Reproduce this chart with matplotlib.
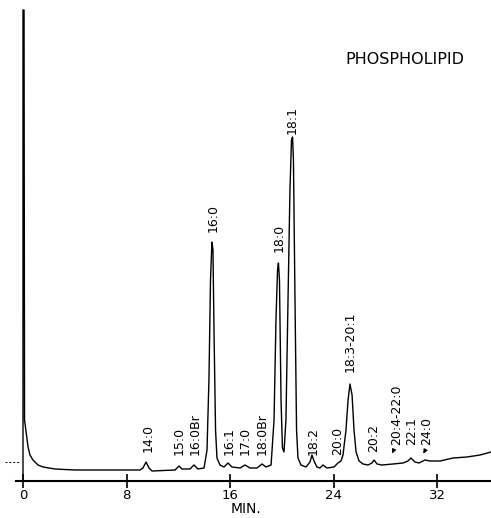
import numpy as np
import matplotlib
matplotlib.use("Agg")
import matplotlib.pyplot as plt

# Trace: time (min) and pen response (arbitrary units)
trace_t = [0.0, 0.0, 0.08, 0.12, 0.39, 0.54, 0.77, 1.16, 1.55, 2.47, 4.02, 9.04,
           9.27, 9.51, 9.74, 9.97, 11.75, 12.06, 12.29, 12.91, 13.21, 13.52, 13.99,
           14.22, 14.37, 14.49, 14.60, 14.68, 14.76, 14.88, 14.99, 15.22, 15.53,
           15.84, 16.15, 16.77, 17.16, 17.54, 18.08, 18.47, 18.78, 19.17, 19.40,
           19.55, 19.67, 19.74, 19.82, 19.94, 20.05, 20.17, 20.32, 20.48, 20.63,
           20.75, 20.83, 20.90, 21.02, 21.14, 21.25, 21.48, 21.87, 22.18, 22.33,
           22.49, 22.72, 22.95, 23.18, 23.49, 24.03, 24.34, 24.57, 24.73, 24.96,
           25.12, 25.27, 25.43, 25.58, 25.74, 25.97, 26.28, 26.66, 26.97, 27.13,
           27.36, 27.74, 28.59, 29.37, 29.75, 29.98, 30.29, 30.60, 31.07, 31.45,
           32.23, 33.23, 34.31, 35.32, 36.17]
trace_y = [0, 471, 471, 61, 34, 26, 21, 16, 14, 12, 11, 11,
           13, 19, 13, 10, 11, 15, 12, 12, 16, 12, 13,
           31, 101, 201, 239, 231, 151, 51, 23, 16, 14,
           18, 14, 13, 16, 13, 13, 17, 14, 16, 61,
           161, 211, 218, 201, 81, 33, 29, 61, 181, 291,
           341, 344, 321, 181, 51, 23, 16, 14, 19, 26,
           20, 14, 13, 16, 13, 14, 18, 20, 26, 51,
           81, 97, 86, 51, 29, 20, 17, 16, 18, 21,
           17, 16, 17, 18, 20, 23, 19, 18, 21, 20,
           20, 23, 24, 26, 29]

# Peak labels and where they sit
peak_names = ['14:0', '15:0', '16:0Br', '16:0', '16:1', '17:0', '18:0Br', '18:0',
              '18:1', '18:2', '20:0', '18:3-20:1', '20:2', '20:4-22:0', '22:1', '24:0']
label_t = [9.66, 12.06, 13.29, 14.68, 15.92, 17.16, 18.47, 19.78,
           20.79, 22.41, 24.34, 25.27, 27.13, 28.90, 30.06, 31.22]
label_y = [29, 26, 26, 249, 26, 26, 26, 229,
           347, 26, 26, 109, 29, 36, 36, 36]

# Arrowed labels: (start, end) points
arrows = [((28.75, 34), (28.44, 25)),
          ((31.22, 34), (30.83, 25))]

ticks = [0, 8, 16, 24, 32]

fig = plt.figure(figsize=(4.91, 5.18), dpi=100)
ax = fig.add_axes([0, 37 / 518, 1, 481 / 518])

ax.plot(trace_t, trace_y, color='black', lw=1.0, clip_on=False)

for name, t, y in zip(peak_names, label_t, label_y):
    ax.text(t, y, name, rotation=90, ha='center', va='bottom', fontsize=9)

for (x0, y0), (x1, y1) in arrows:
    ax.annotate('', xy=(x1, y1), xytext=(x0, y0),
                arrowprops=dict(arrowstyle='-|>', lw=0.8, color='black', mutation_scale=6))

# little dashed reference mark at the left
ax.plot([-1.39, -0.23], [19, 19], color='black', lw=0.7, dashes=(2, 2), clip_on=False)

ax.text(29.52, 422, 'PHOSPHOLIPID', ha='center', va='center', fontsize=11.5)

ax.set_xlim(-23 / 12.94, 468 / 12.94)
ax.set_ylim(0, 481)
for s in ['top', 'left', 'right']:
    ax.spines[s].set_visible(False)
ax.spines['bottom'].set_bounds(-0.55, 36.17)
ax.spines['bottom'].set_linewidth(1.5)
ax.set_yticks([])
ax.set_xticks(ticks)
ax.set_xticklabels([str(t) for t in ticks])
ax.tick_params(axis='x', direction='inout', length=10, width=1.2, pad=1, labelsize=9.5)
ax.set_xlabel('MIN.', fontsize=10, labelpad=0)
ax.patch.set_visible(False)

fig.savefig('out.png', dpi=100)
